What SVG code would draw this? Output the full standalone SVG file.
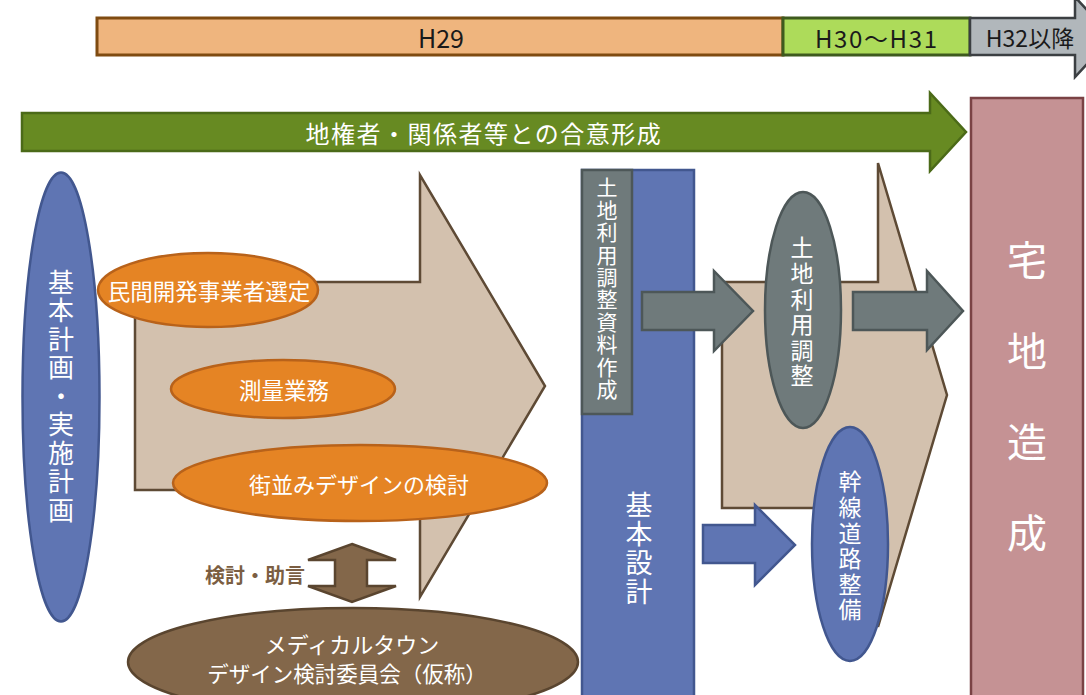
<svg xmlns="http://www.w3.org/2000/svg" width="1086" height="695" viewBox="0 0 1086 695">
<style>
text{font-family:"Noto Sans CJK JP","Noto Sans",sans-serif;}
.w{fill:#ffffff;text-anchor:middle;dominant-baseline:central;}
.k{fill:#1a1a1a;text-anchor:middle;dominant-baseline:central;}
.v{fill:#ffffff;text-anchor:middle;writing-mode:vertical-rl;}
.blue{fill:#5F75B3;stroke:#42578F;stroke-width:2.5;}
.gray{fill:#6F7A7B;stroke:#4D5758;stroke-width:2.5;}
.beige{fill:#D3C1AE;stroke:#5E4A35;stroke-width:2.5;}
.orange{fill:#E58424;stroke:#B8621A;stroke-width:2.5;}
.brown{fill:#83674A;stroke:#5A452F;stroke-width:2.5;}
.pink{fill:#C59294;stroke:#7A4244;stroke-width:2.5;}
</style>

<g id="timeline">
  <g id="h29">
    <rect x="97" y="18" width="686" height="37" fill="#EFB57E" stroke="#7F4B11" stroke-width="3"/>
    <text class="k" x="441" y="37" font-size="25">H29</text>
  </g>
  <g id="h30-31">
    <rect x="783" y="18" width="187" height="37" fill="#ADDB5A" stroke="#3E5A1E" stroke-width="3"/>
    <text class="k" x="876" y="37" font-size="24" textLength="122" lengthAdjust="spacing">H30～H31</text>
  </g>
  <g id="h32">
    <polygon points="970,18 1075,18 1075,-3 1112,37 1075,77 1075,55 970,55" fill="#B1B7BB" stroke="#3B3F42" stroke-width="2.5"/>
    <text class="k" x="1030" y="37" font-size="23">H32以降</text>
  </g>
</g>

<g id="consensus">
  <polygon points="22,113 930,113 930,93 966,132 930,171 930,151 22,151" fill="#678A22" stroke="#4B6A18" stroke-width="2.5"/>
  <text class="w" x="484" y="132" font-size="24" letter-spacing="1.5">地権者・関係者等との合意形成</text>
</g>

<g id="phase1">
  <polygon class="beige" points="135,282 420,282 420,175 545,386 420,597 420,490 135,490"/>
</g>
<g id="phase2">
  <polygon class="beige" points="722,282 878,282 878,163 947,395 878,627 878,508 722,508"/>
</g>

<g id="kihon-keikaku">
  <ellipse class="blue" cx="61" cy="397" rx="38.5" ry="224.5"/>
  <text class="v" x="61" y="397" font-size="26" letter-spacing="2.5">基本計画・実施計画</text>
</g>

<g id="minkan">
  <ellipse class="orange" cx="208" cy="290" rx="110" ry="37"/>
  <text class="w" x="209" y="290" font-size="22.5">民間開発事業者選定</text>
</g>
<g id="sokuryo">
  <ellipse class="orange" cx="283" cy="389" rx="112" ry="29"/>
  <text class="w" x="284" y="389" font-size="22.5">測量業務</text>
</g>
<g id="machinami">
  <ellipse class="orange" cx="360" cy="483" rx="187" ry="38"/>
  <text class="w" x="359" y="483" font-size="22">街並みデザインの検討</text>
</g>

<g id="connectors">
  <polygon id="c-advice" class="brown" points="352,544 396,560 367,560 367,586 396,586 352,602 308,586 335,586 335,560 308,560"/>
  <polygon id="c-blue" class="blue" points="703,525 755,525 755,505 795,545 755,585 755,563 703,563"/>
</g>

<g id="advice-label">
  <text x="255" y="574" font-size="20" font-weight="bold" fill="#7B5E42" text-anchor="middle" dominant-baseline="central">検討・助言</text>
</g>

<g id="committee">
  <ellipse class="brown" cx="353" cy="662" rx="225" ry="54"/>
  <text class="w" x="352" y="643" font-size="22">メディカルタウン</text>
  <text class="w" x="347" y="672" font-size="21.5">デザイン検討委員会（仮称）</text>
</g>

<g id="kihon-sekkei">
  <rect class="blue" x="582" y="170" width="112" height="530"/>
  <text class="v" x="639" y="549" font-size="27" letter-spacing="2">基本設計</text>
</g>

<g id="shiryo">
  <rect class="gray" x="582" y="170" width="50" height="244"/>
  <text class="v" x="607" y="289" font-size="21" letter-spacing="1.4">土地利用調整資料作成</text>
</g>

<g id="connectors-gray">
  <polygon id="c-gray1" class="gray" points="642,292 714,292 714,271 753,311 714,351 714,330 642,330"/>
  <polygon id="c-gray2" class="gray" points="853,292 927,292 927,271 963,311 927,350 927,330 853,330"/>
</g>

<g id="tochi-chosei">
  <ellipse class="gray" cx="803" cy="310" rx="38" ry="118"/>
  <text class="v" x="802" y="313" font-size="23" letter-spacing="2.6">土地利用調整</text>
</g>

<g id="kansen">
  <ellipse class="blue" cx="850" cy="544" rx="38" ry="117"/>
  <text class="v" x="850" y="547" font-size="23" letter-spacing="2.6">幹線道路整備</text>
</g>

<g id="takuchi">
  <rect class="pink" x="971" y="98" width="112" height="600"/>
  <text class="v" x="1027" y="422" font-size="40" letter-spacing="51">宅地造成</text>
</g>
</svg>
